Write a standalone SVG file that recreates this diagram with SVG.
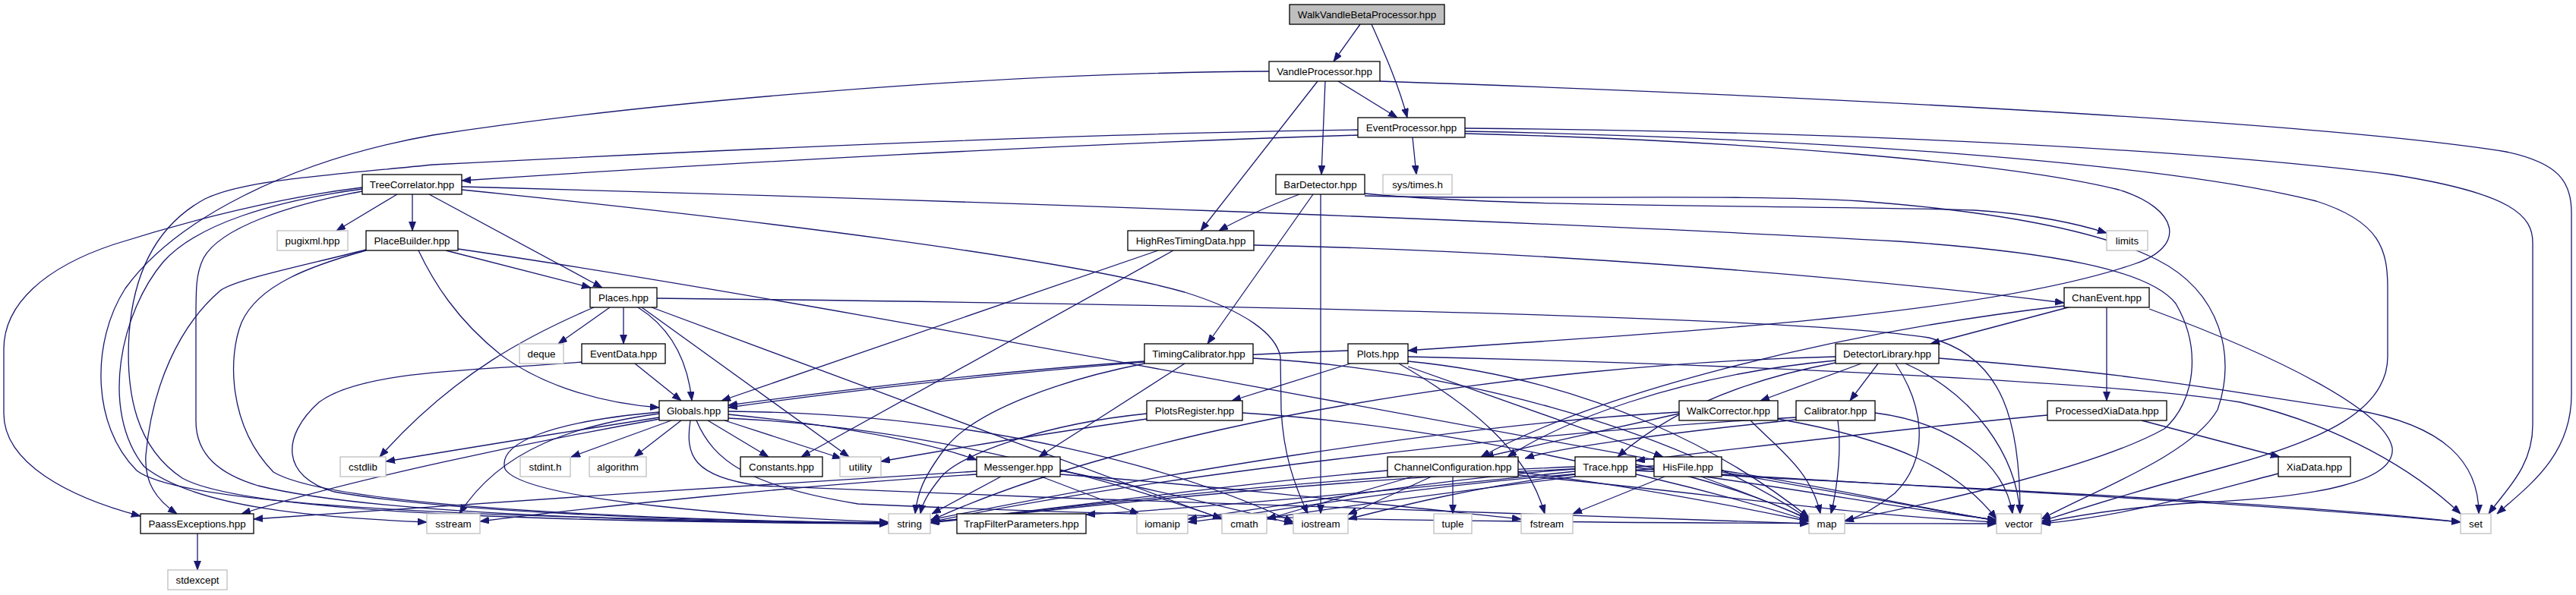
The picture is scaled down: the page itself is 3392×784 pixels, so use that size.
<svg xmlns="http://www.w3.org/2000/svg" width="3392" height="784" viewBox="0 0 3392 784">
<defs>
<marker id="ah" markerUnits="userSpaceOnUse" markerWidth="13" markerHeight="10" refX="12" refY="4.5" orient="auto"><path d="M0,0 L12,4.5 L0,9 z" fill="#191970" stroke="#191970" stroke-width="0.8"/></marker>
<style>
.n rect{fill:#fff;stroke:#000;stroke-width:1.3}
.x rect{fill:#fff;stroke:#bfbfbf;stroke-width:1.3}
.r rect{fill:#bfbfbf;stroke:#000;stroke-width:1.3}
text{font-family:"Liberation Sans",Arial,Helvetica,sans-serif;font-size:13.33px;text-anchor:middle;fill:#000}
#edges path{fill:none;stroke:#191970;stroke-width:1.3;marker-end:url(#ah)}
</style>
</defs>
<rect width="3392" height="784" fill="#fff"/>
<g id="edges">
<path d="M1791,32 L1756,81"/>
<path d="M1806,32 C1822,68 1842,112 1853,155"/>
<path d="M1762,107 L1840,155"/>
<path d="M1745,107 L1740,230"/>
<path d="M1735,107 L1581,304"/>
<path d="M1817,107 C2350,125 3050,160 3300,200 C3370,215 3386,240 3386,280 L3386,520 C3386,600 3330,640 3288,677"/>
<path d="M1671,94 C1300,96 850,135 570,178 C380,212 230,290 165,380 C120,450 120,560 180,620 C250,675 800,685 1170,689"/>
<path d="M1788,178 C1400,190 950,215 608,238"/>
<path d="M1788,171 C1400,176 900,200 570,217 C420,232 320,238 270,262 C200,300 175,370 170,440 C165,520 180,590 240,630 C330,680 800,688 1170,690"/>
<path d="M1860,181 L1865,230"/>
<path d="M1929,169 C2350,172 2850,192 3150,230 C3310,255 3335,285 3335,320 L3335,560 C3335,615 3300,645 3277,677"/>
<path d="M1929,173 C2400,182 2850,215 3050,265 C3135,292 3144,330 3144,380 L3144,470 C3144,540 3060,580 2930,615 C2820,645 2740,670 2688,687"/>
<path d="M1929,176 C2300,185 2650,215 2790,250 C2870,275 2880,325 2810,348 C2600,420 2150,440 1854,462"/>
<path d="M523,256 L443,304"/>
<path d="M543,256 L543,304"/>
<path d="M565,256 L793,379"/>
<path d="M477,247 C370,260 250,290 150,322 C60,352 5,400 5,460 L5,545 C5,610 90,655 185,680"/>
<path d="M477,249 C360,265 260,295 215,345 C160,410 130,540 190,615 C260,670 420,682 562,688"/>
<path d="M477,252 C380,270 290,300 268,340 C258,360 258,380 258,420 L258,555 C258,600 290,625 340,640 C500,680 900,688 1170,690"/>
<path d="M608,246 C1200,262 2000,290 2500,318 C2700,332 2830,355 2865,400 C2900,460 2890,530 2850,565 C2760,615 2560,660 2429,686"/>
<path d="M608,250 C1000,290 1400,340 1560,385 C1640,410 1680,440 1686,470 L1687,540 C1690,600 1705,640 1722,677"/>
<path d="M587,330 L778,379"/>
<path d="M551,330 C570,370 600,420 660,468 C720,512 800,532 868,537"/>
<path d="M482,329 C400,350 310,368 290,383 C235,430 200,510 192,600 C190,635 205,658 233,677"/>
<path d="M482,330 C410,350 340,375 318,425 C300,470 300,560 360,622 C440,670 900,686 1170,689"/>
<path d="M603,328 C1100,400 1900,560 2629,686"/>
<path d="M803,405 L735,453"/>
<path d="M821,405 L821,453"/>
<path d="M840,405 C880,430 905,470 911,528"/>
<path d="M845,405 L1118,602"/>
<path d="M782,405 C700,440 600,490 500,602"/>
<path d="M865,393 C1500,400 2350,415 2540,445 C2640,470 2660,560 2660,677"/>
<path d="M858,405 L1609,684"/>
<path d="M836,479 L897,528"/>
<path d="M766,477 C650,488 480,485 420,530 C370,575 370,628 440,648 C620,680 1000,687 1170,690"/>
<path d="M884,554 L752,602"/>
<path d="M897,554 L835,602"/>
<path d="M932,554 L1012,602"/>
<path d="M954,554 L1108,604"/>
<path d="M959,546 C1060,556 1200,575 1286,606"/>
<path d="M868,550 C750,568 620,590 508,608"/>
<path d="M869,552 C700,582 460,632 318,677"/>
<path d="M868,545 C760,560 660,590 605,677"/>
<path d="M868,543 C720,556 655,585 665,618 C690,660 1000,682 1170,688"/>
<path d="M909,554 C902,600 912,628 1000,640 C1500,662 2100,680 2382,690"/>
<path d="M917,554 C940,608 985,640 1130,664 C1700,690 2350,690 2629,690"/>
<path d="M959,542 C1300,545 1560,620 1703,688"/>
<path d="M959,551 C1250,565 1480,640 1609,683"/>
<path d="M1318,628 L1227,677"/>
<path d="M1371,628 L1500,677"/>
<path d="M1286,621 C1000,638 600,665 334,684"/>
<path d="M1286,625 C1050,640 800,666 632,687"/>
<path d="M1396,620 C1500,640 1620,670 1703,690"/>
<path d="M1396,625 C1600,640 1850,668 2003,684"/>
<path d="M1560,479 L1368,602"/>
<path d="M1507,476 C1300,490 1100,515 959,534"/>
<path d="M1507,479 C1400,500 1285,540 1245,590 C1215,630 1208,650 1205,677"/>
<path d="M1650,472 C1900,485 2200,560 2382,684"/>
<path d="M1778,479 L1622,528"/>
<path d="M1775,462 C1500,470 1150,510 959,537"/>
<path d="M1854,483 L2190,602"/>
<path d="M1842,479 C1930,530 2010,590 2034,677"/>
<path d="M1854,470 C2300,480 2800,505 2950,530 C3080,560 3180,620 3240,677"/>
<path d="M1854,476 C2100,500 2280,600 2382,682"/>
<path d="M1510,552 C1400,568 1260,590 1160,608"/>
<path d="M1510,545 C1380,558 1262,598 1238,630 C1222,650 1215,662 1212,677"/>
<path d="M1636,544 C1900,560 2200,630 2382,686"/>
<path d="M1525,330 L950,528"/>
<path d="M1545,330 L1055,602"/>
<path d="M1651,323 C2000,330 2400,360 2718,399"/>
<path d="M1711,256 C1680,268 1640,284 1605,304"/>
<path d="M1729,256 L1590,453"/>
<path d="M1739,256 L1739,677"/>
<path d="M1797,255 C2000,275 2400,270 2600,277 C2680,282 2740,296 2774,307"/>
<path d="M1797,258 C2000,264 2300,255 2450,265 C2620,278 2760,302 2840,342 C2925,385 2945,470 2920,540 C2885,600 2760,645 2688,684"/>
<path d="M2727,404 L2542,453"/>
<path d="M2774,405 L2774,528"/>
<path d="M2718,403 C2400,440 2100,520 1950,602"/>
<path d="M2830,407 C3000,470 3140,540 3150,590 C3155,635 3050,655 2900,662 C2800,668 2730,680 2688,689"/>
<path d="M2820,554 L3002,602"/>
<path d="M2696,547 C2500,565 2300,590 2154,607"/>
<path d="M3000,624 C2900,650 2800,680 2688,690"/>
<path d="M2451,479 L2318,528"/>
<path d="M2473,479 L2436,528"/>
<path d="M2496,479 C2530,530 2545,600 2495,650 C2470,670 2450,680 2429,687"/>
<path d="M2509,479 C2600,520 2655,600 2660,677"/>
<path d="M2553,472 C2850,495 2950,520 3100,540 C3220,560 3264,610 3264,677"/>
<path d="M2417,478 C2300,500 2200,540 2130,602"/>
<path d="M2417,475 C2200,495 2050,560 1985,602"/>
<path d="M2417,470 C2000,480 1500,560 1225,686"/>
<path d="M2420,554 C2425,590 2420,640 2411,677"/>
<path d="M2469,544 C2570,557 2640,610 2650,677"/>
<path d="M2365,553 C2200,570 2050,590 2008,604"/>
<path d="M2365,550 C2000,570 1500,630 1225,688"/>
<path d="M2305,554 C2340,590 2385,620 2397,677"/>
<path d="M2341,552 C2500,580 2580,620 2629,684"/>
<path d="M2211,545 L1955,602"/>
<path d="M2211,543 C1900,560 1500,630 1225,685"/>
<path d="M1913,628 L1913,677"/>
<path d="M1885,628 L1775,678"/>
<path d="M1860,628 L1668,684"/>
<path d="M1827,620 C1600,640 1400,670 1225,688"/>
<path d="M1999,622 C2150,640 2300,670 2382,687"/>
<path d="M1999,626 C2250,650 2450,680 2629,688"/>
<path d="M2074,625 C1950,640 1850,665 1775,684"/>
<path d="M2074,621 C1900,640 1600,668 1430,678"/>
<path d="M2074,618 C1900,630 1700,665 1564,684"/>
<path d="M2074,628 C1900,650 1750,670 1668,683"/>
<path d="M2074,615 C1700,630 1400,670 1225,688"/>
<path d="M2154,612 C2250,630 2330,660 2382,685"/>
<path d="M2154,616 C2350,640 2500,670 2629,685"/>
<path d="M2154,620 C2500,640 3000,660 3240,688"/>
<path d="M2192,628 L2071,677"/>
<path d="M2178,618 C1900,632 1700,672 1564,688"/>
<path d="M2178,614 C1800,625 1400,670 1225,689"/>
<path d="M2240,628 C2300,650 2350,670 2382,684"/>
<path d="M2267,620 C2400,640 2530,670 2629,686"/>
<path d="M2267,625 C2600,645 3000,665 3240,688"/>
<path d="M260,703 L260,751"/>
</g>
<g id="n-WalkVandleBetaProcessor" class="r"><rect x="1698" y="6" width="204" height="26"/><text x="1800" y="24">WalkVandleBetaProcessor.hpp</text></g>
<g id="n-VandleProcessor" class="n"><rect x="1671" y="81" width="146" height="26"/><text x="1744" y="99">VandleProcessor.hpp</text></g>
<g id="n-EventProcessor" class="n"><rect x="1788" y="155" width="141" height="26"/><text x="1858.5" y="173">EventProcessor.hpp</text></g>
<g id="n-TreeCorrelator" class="n"><rect x="477" y="230" width="131" height="26"/><text x="542.5" y="248">TreeCorrelator.hpp</text></g>
<g id="n-BarDetector" class="n"><rect x="1680" y="230" width="117" height="26"/><text x="1738.5" y="248">BarDetector.hpp</text></g>
<g id="n-systimes" class="x"><rect x="1821" y="230" width="91" height="26"/><text x="1866.5" y="248">sys/times.h</text></g>
<g id="n-pugixml" class="x"><rect x="365" y="304" width="93" height="26"/><text x="411.5" y="322">pugixml.hpp</text></g>
<g id="n-PlaceBuilder" class="n"><rect x="482" y="304" width="121" height="26"/><text x="542.5" y="322">PlaceBuilder.hpp</text></g>
<g id="n-HighResTimingData" class="n"><rect x="1485" y="304" width="166" height="26"/><text x="1568" y="322">HighResTimingData.hpp</text></g>
<g id="n-limits" class="x"><rect x="2774" y="304" width="54" height="26"/><text x="2801" y="322">limits</text></g>
<g id="n-Places" class="n"><rect x="777" y="379" width="88" height="26"/><text x="821" y="397">Places.hpp</text></g>
<g id="n-ChanEvent" class="n"><rect x="2718" y="379" width="112" height="26"/><text x="2774" y="397">ChanEvent.hpp</text></g>
<g id="n-deque" class="x"><rect x="684" y="453" width="58" height="26"/><text x="713" y="471">deque</text></g>
<g id="n-EventData" class="n"><rect x="766" y="453" width="110" height="26"/><text x="821" y="471">EventData.hpp</text></g>
<g id="n-TimingCalibrator" class="n"><rect x="1507" y="453" width="143" height="26"/><text x="1578.5" y="471">TimingCalibrator.hpp</text></g>
<g id="n-Plots" class="n"><rect x="1775" y="453" width="79" height="26"/><text x="1814.5" y="471">Plots.hpp</text></g>
<g id="n-DetectorLibrary" class="n"><rect x="2417" y="453" width="136" height="26"/><text x="2485" y="471">DetectorLibrary.hpp</text></g>
<g id="n-Globals" class="n"><rect x="868" y="528" width="91" height="26"/><text x="913.5" y="546">Globals.hpp</text></g>
<g id="n-PlotsRegister" class="n"><rect x="1510" y="528" width="126" height="26"/><text x="1573" y="546">PlotsRegister.hpp</text></g>
<g id="n-WalkCorrector" class="n"><rect x="2211" y="528" width="130" height="26"/><text x="2276" y="546">WalkCorrector.hpp</text></g>
<g id="n-Calibrator" class="n"><rect x="2365" y="528" width="104" height="26"/><text x="2417" y="546">Calibrator.hpp</text></g>
<g id="n-ProcessedXiaData" class="n"><rect x="2696" y="528" width="157" height="26"/><text x="2774.5" y="546">ProcessedXiaData.hpp</text></g>
<g id="n-cstdlib" class="x"><rect x="448" y="602" width="60" height="26"/><text x="478" y="620">cstdlib</text></g>
<g id="n-stdint" class="x"><rect x="685" y="602" width="66" height="26"/><text x="718" y="620">stdint.h</text></g>
<g id="n-algorithm" class="x"><rect x="776" y="602" width="75" height="26"/><text x="813.5" y="620">algorithm</text></g>
<g id="n-Constants" class="n"><rect x="975" y="602" width="108" height="26"/><text x="1029" y="620">Constants.hpp</text></g>
<g id="n-utility" class="x"><rect x="1106" y="602" width="54" height="26"/><text x="1133" y="620">utility</text></g>
<g id="n-Messenger" class="n"><rect x="1286" y="602" width="110" height="26"/><text x="1341" y="620">Messenger.hpp</text></g>
<g id="n-ChannelConfiguration" class="n"><rect x="1827" y="602" width="172" height="26"/><text x="1913" y="620">ChannelConfiguration.hpp</text></g>
<g id="n-Trace" class="n"><rect x="2074" y="602" width="80" height="26"/><text x="2114" y="620">Trace.hpp</text></g>
<g id="n-HisFile" class="n"><rect x="2178" y="602" width="89" height="26"/><text x="2222.5" y="620">HisFile.hpp</text></g>
<g id="n-XiaData" class="n"><rect x="3000" y="602" width="95" height="26"/><text x="3047.5" y="620">XiaData.hpp</text></g>
<g id="n-PaassExceptions" class="n"><rect x="185" y="677" width="149" height="26"/><text x="259.5" y="695">PaassExceptions.hpp</text></g>
<g id="n-sstream" class="x"><rect x="562" y="677" width="70" height="26"/><text x="597" y="695">sstream</text></g>
<g id="n-string" class="x"><rect x="1170" y="677" width="55" height="26"/><text x="1197.5" y="695">string</text></g>
<g id="n-TrapFilterParameters" class="n"><rect x="1260" y="677" width="170" height="26"/><text x="1345" y="695">TrapFilterParameters.hpp</text></g>
<g id="n-iomanip" class="x"><rect x="1497" y="677" width="67" height="26"/><text x="1530.5" y="695">iomanip</text></g>
<g id="n-cmath" class="x"><rect x="1609" y="677" width="59" height="26"/><text x="1638.5" y="695">cmath</text></g>
<g id="n-iostream" class="x"><rect x="1703" y="677" width="72" height="26"/><text x="1739" y="695">iostream</text></g>
<g id="n-tuple" class="x"><rect x="1888" y="677" width="50" height="26"/><text x="1913" y="695">tuple</text></g>
<g id="n-fstream" class="x"><rect x="2003" y="677" width="68" height="26"/><text x="2037" y="695">fstream</text></g>
<g id="n-map" class="x"><rect x="2382" y="677" width="47" height="26"/><text x="2405.5" y="695">map</text></g>
<g id="n-vector" class="x"><rect x="2629" y="677" width="59" height="26"/><text x="2658.5" y="695">vector</text></g>
<g id="n-set" class="x"><rect x="3240" y="677" width="40" height="26"/><text x="3260" y="695">set</text></g>
<g id="n-stdexcept" class="x"><rect x="221" y="751" width="78" height="26"/><text x="260" y="769">stdexcept</text></g>
</svg>
